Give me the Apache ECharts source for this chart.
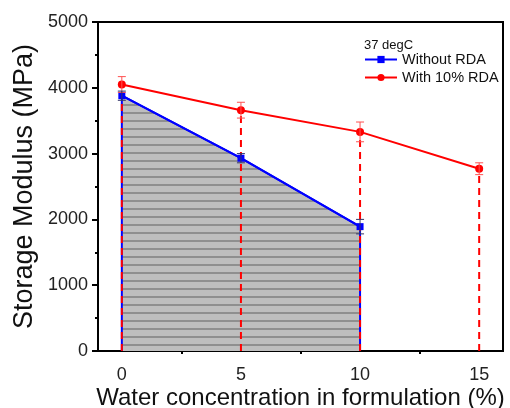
<!DOCTYPE html>
<html>
<head>
<meta charset="utf-8">
<script src="https://cdn.jsdelivr.net/npm/echarts@6/dist/echarts.min.js"></script>
<style>
html,body{margin:0;padding:0;background:#fff;}
#chart{width:510px;height:408px;}
</style>
</head>
<body>
<div id="chart"></div>
<script>
// ---- data ----
const xWith = [0, 5, 10, 15];
const withRDA = [4050, 3660, 3330, 2770];
const withRDAErr = [120, 120, 150, 90];
const xWithout = [0, 5, 10];
const withoutRDA = [3880, 2930, 1890];
const withoutRDAErr = [70, 70, 110];
const xTickLabels = [0, 5, 10, 15];
const xMinorTicks = [2.5, 7.5, 12.5];
const yTicks = [0, 1000, 2000, 3000, 4000, 5000];
const legendTitle = '37 degC';
const seriesNames = ['Without RDA', 'With 10% RDA'];

const FONT = '"Liberation Sans", Arial, sans-serif';

// hatch pattern
const pat = document.createElement('canvas');
pat.width = 8; pat.height = 8;
const pctx = pat.getContext('2d');
pctx.fillStyle = '#bebebe'; pctx.fillRect(0, 0, 8, 8);
pctx.fillStyle = '#8f8f8f'; pctx.fillRect(0, 0, 8, 2);

const withPts = xWith.map((x, i) => [x, withRDA[i]]);
const withoutPts = xWithout.map((x, i) => [x, withoutRDA[i]]);
const areaPts = [[xWithout[0], 0]].concat(withoutPts, [[xWithout[xWithout.length - 1], 0]]);
const withErrData = xWith.map((x, i) => [x, withRDA[i], withRDAErr[i]]);
const withoutErrData = xWithout.map((x, i) => [x, withoutRDA[i], withoutRDAErr[i]]);

function errRender(color) {
  return function (params, api) {
    const x = api.value(0), y = api.value(1), e = api.value(2);
    const top = api.coord([x, y + e]);
    const bot = api.coord([x, y - e]);
    const w = 4;
    const st = { stroke: color, lineWidth: 1 };
    return {
      type: 'group',
      children: [
        { type: 'line', shape: { x1: top[0], y1: top[1], x2: bot[0], y2: bot[1] }, style: st },
        { type: 'line', shape: { x1: top[0] - w, y1: top[1], x2: top[0] + w, y2: top[1] }, style: st },
        { type: 'line', shape: { x1: bot[0] - w, y1: bot[1], x2: bot[0] + w, y2: bot[1] }, style: st }
      ]
    };
  };
}

const chart = echarts.init(document.getElementById('chart'), null, { renderer: 'canvas' });
chart.setOption({
  animation: false,
  backgroundColor: '#fff',
  title: {
    text: legendTitle, left: 364, top: 39, padding: 0,
    textStyle: { fontFamily: FONT, fontSize: 13, fontWeight: 'normal', color: '#111' }
  },
  legend: {
    data: seriesNames,
    orient: 'vertical', left: 364, top: 52, padding: 0,
    itemWidth: 32, itemHeight: 9, itemGap: 3,
    textStyle: { fontFamily: FONT, fontSize: 14.5, color: '#111' }
  },
  grid: {
    left: 98, right: 7, top: 22, bottom: 57,
    containLabel: false, outerBoundsMode: 'none',
    show: true, borderColor: '#000', borderWidth: 2, backgroundColor: 'transparent'
  },
  xAxis: {
    type: 'value', min: -1, max: 16,
    name: 'Water concentration in formulation (%)',
    nameLocation: 'middle', nameGap: 35, nameMoveOverlap: false,
    nameTextStyle: { fontFamily: FONT, fontSize: 24, color: '#111' },
    axisLine: { show: true, onZero: false, lineStyle: { color: '#000', width: 2 } },
    axisTick: { show: true, customValues: xMinorTicks, length: 3, lineStyle: { color: '#000', width: 2 } },
    axisLabel: { customValues: xTickLabels, margin: 15, fontFamily: FONT, fontSize: 18, color: '#222' },
    splitLine: { show: false }
  },
  yAxis: {
    type: 'value', min: 0, max: 5000, interval: 1000,
    name: 'Storage Modulus (MPa)',
    nameLocation: 'middle', nameGap: 60, nameMoveOverlap: false,
    nameTextStyle: { fontFamily: FONT, fontSize: 27, color: '#111' },
    axisLine: { show: true, onZero: false, lineStyle: { color: '#000', width: 2 } },
    axisTick: { show: true, length: 6, lineStyle: { color: '#000', width: 2 } },
    minorTick: { show: true, splitNumber: 2, length: 3, lineStyle: { color: '#000', width: 2 } },
    axisLabel: { customValues: yTicks, margin: 10, fontFamily: FONT, fontSize: 18, color: '#222',
      formatter: function (v) { return String(v); } },
    splitLine: { show: false }
  },
  series: [
    {
      type: 'line', name: '_area', data: areaPts, silent: true,
      showSymbol: false, symbol: 'none', z: 1,
      lineStyle: { color: '#0000ff', width: 2 },
      areaStyle: { color: { image: pat, repeat: 'repeat' }, opacity: 1 }
    },
    {
      type: 'custom', name: '_drop', data: withPts, z: 3, silent: true,
      renderItem: function (params, api) {
        const p0 = api.coord([api.value(0), 0]);
        const p1 = api.coord([api.value(0), api.value(1)]);
        return { type: 'line', shape: { x1: p0[0], y1: p0[1], x2: p1[0], y2: p1[1] },
          style: { stroke: '#ff0000', lineWidth: 2, lineDash: [7, 5] } };
      }
    },
    {
      type: 'line', name: seriesNames[0], data: withoutPts, z: 4,
      symbol: 'rect', symbolSize: 7, color: '#0000ff',
      lineStyle: { color: '#0000ff', width: 2 },
      itemStyle: { color: '#0000ff' }
    },
    {
      type: 'line', name: seriesNames[1], data: withPts, z: 5,
      symbol: 'circle', symbolSize: 8, color: '#ff0000',
      lineStyle: { color: '#ff0000', width: 2 },
      itemStyle: { color: '#ff0000' }
    },
    { type: 'custom', name: '_errWith', data: withErrData, z: 6, silent: true, renderItem: errRender('#ff5050') },
    { type: 'custom', name: '_errWithout', data: withoutErrData, z: 6, silent: true, renderItem: errRender('#333366') }
  ]
});
</script>
</body>
</html>
